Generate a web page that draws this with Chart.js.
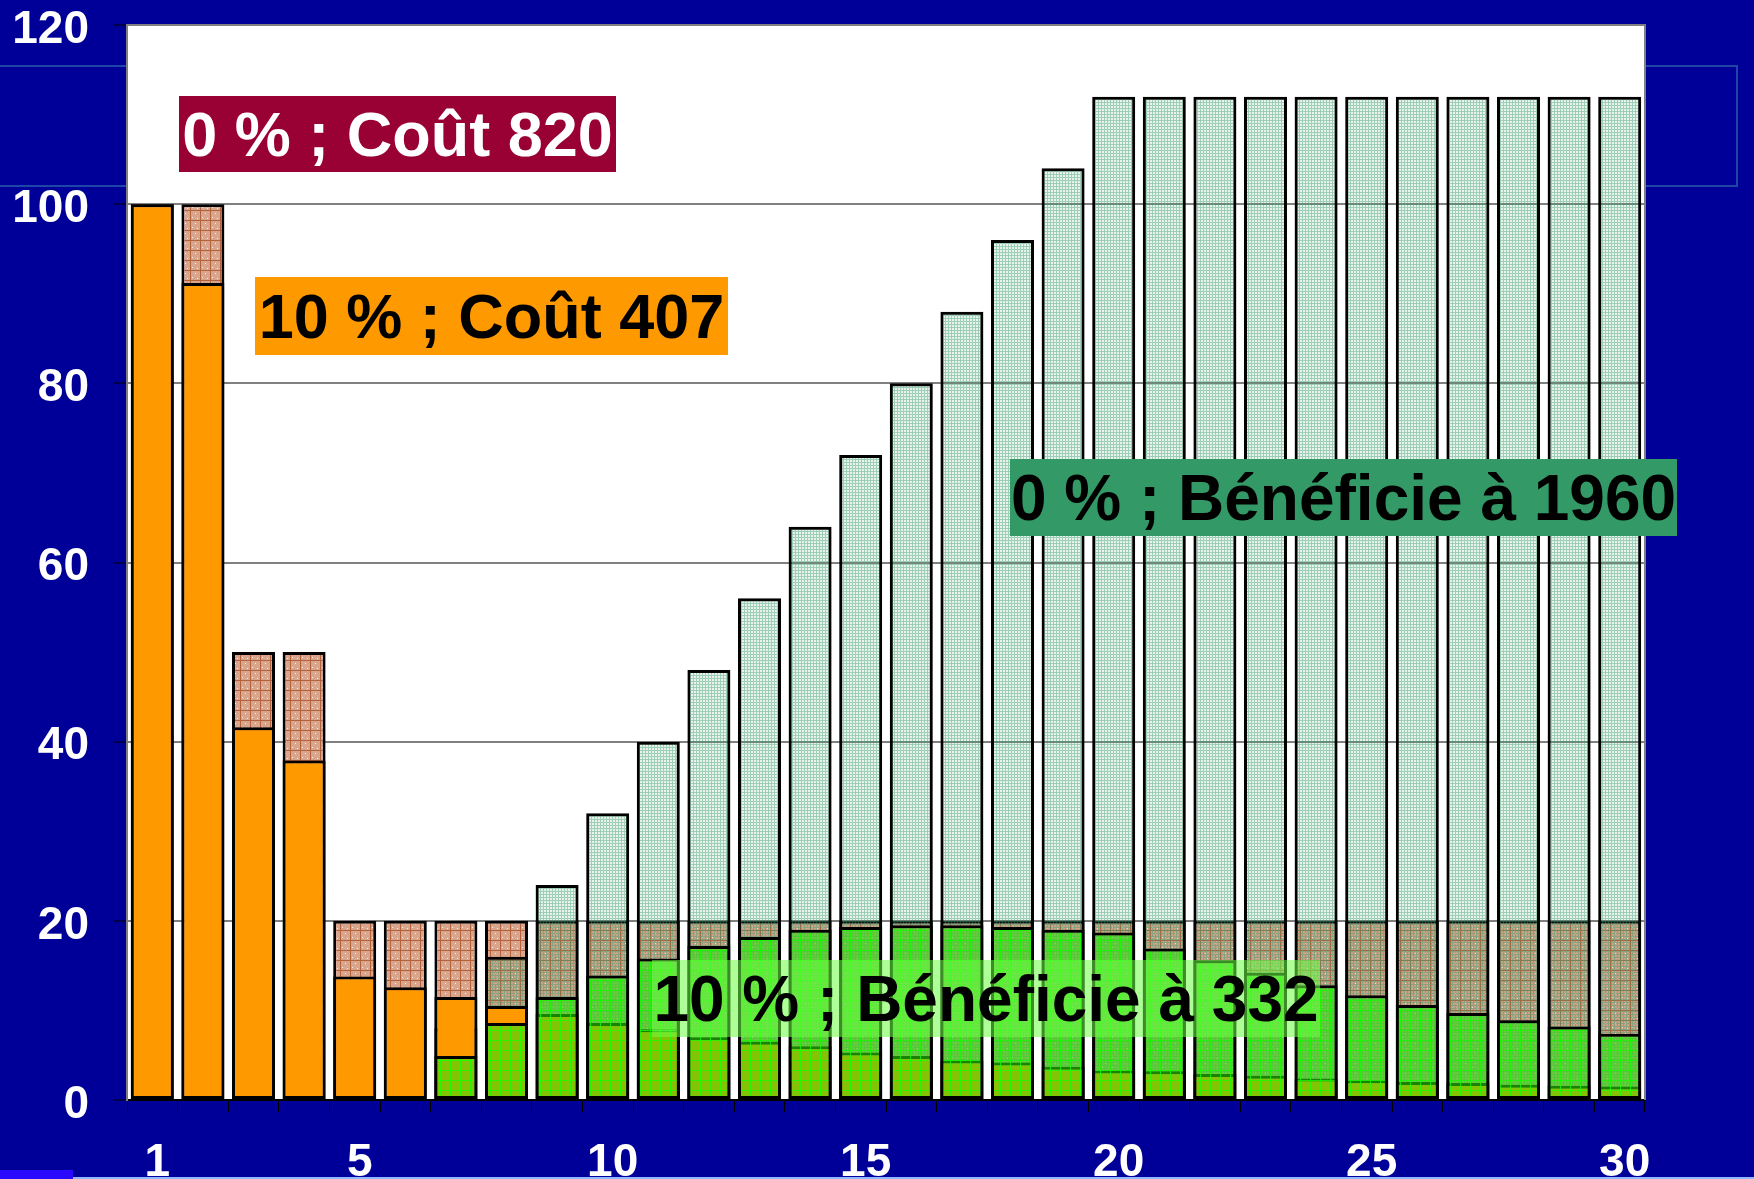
<!DOCTYPE html>
<html><head><meta charset="utf-8">
<script src="https://cdn.jsdelivr.net/npm/chart.js@4.4.1/dist/chart.umd.min.js"></script>
<style>
html,body{margin:0;padding:0;background:#000099;width:1754px;height:1179px;overflow:hidden;}
#wrap{position:relative;width:1754px;height:1179px;}
canvas{position:absolute;left:0;top:0;z-index:1;}
.deco{position:absolute;}
.lbl{position:absolute;z-index:3;font-family:"Liberation Sans",Arial,sans-serif;font-weight:bold;font-size:63px;white-space:nowrap;display:flex;align-items:center;justify-content:center;box-sizing:border-box;}
</style></head>
<body><div id="wrap">
<div class="deco" style="left:-10px;top:65px;width:1744px;height:118px;border:2px solid #1E46A8;z-index:0"></div>
<canvas id="c" width="1754" height="1179"></canvas>
<div class="deco" style="left:0;top:1170px;width:73px;height:9px;background:#2A0AFF;z-index:2"></div>
<div class="deco" style="left:73px;top:1177px;width:1681px;height:2px;background:#8FB6FF;z-index:2"></div>
<div class="lbl" style="left:179px;top:96px;width:437px;height:76px;background:#990033;color:#fff">0 % ; Coût 820</div>
<div class="lbl" style="left:255px;top:277px;width:473px;height:78px;background:#FF9900;color:#000">10 % ; Coût 407</div>
<div class="lbl" style="left:1010px;top:459px;width:667px;height:77px;background:#339966;color:#000;font-size:64px">0 % ; Bénéficie à 1960</div>
<div class="lbl" style="left:652px;top:960px;width:668px;height:77px;background:rgba(110,255,70,0.55);color:#000;font-size:64px">10 % ; Bénéficie à 332</div>
</div>
<script>
// ---- data ----
const categories = ['1','2','3','4','5','6','7','8','9','10','11','12','13','14','15','16','17','18','19','20','21','22','23','24','25','26','27','28','29','30'];
const shownXTicks = ['1','5','10','15','20','25','30'];
const yTickValues = [0,20,40,60,80,100,120];
// 0 % discount: cost
const cost0 = [100,100,50,50,20,20,20,20,20,20,20,20,20,20,20,20,20,20,20,20,20,20,20,20,20,20,20,20,20,20];
// 10 % discount: cost
const cost10 = [100,91.2,41.6,37.9,13.8,12.6,11.5,10.5,9.6,8.6,7.9,7.0,6.5,6.0,5.3,4.9,4.4,4.2,3.7,3.3,3.2,2.9,2.7,2.4,2.2,2.0,1.9,1.7,1.6,1.5];
// 0 % discount: benefit
const benefit0 = [null,null,null,null,null,null,8,16,24,32,40,48,56,64,72,80,88,96,104,112,112,112,112,112,112,112,112,112,112,112];
// 10 % discount: benefit
const benefit10 = [null,null,null,null,null,null,4.9,8.6,11.5,13.9,15.8,17.2,18.2,19.0,19.3,19.5,19.5,19.3,19.0,18.7,16.9,15.6,14.2,12.8,11.7,10.6,9.7,8.9,8.2,7.4];

// ---- patterns ----
function makePattern(w,h,draw){const c=document.createElement('canvas');c.width=w;c.height=h;const g=c.getContext('2d');draw(g,w,h);return g.createPattern(c,'repeat');}
const brownPat = makePattern(10,10,(g,w,h)=>{g.fillStyle='#D9A58D';g.fillRect(0,0,w,h);g.fillStyle='#B4623C';g.fillRect(0,0,w,1);g.fillRect(0,0,1,h);g.fillStyle='rgba(255,255,255,0.85)';g.fillRect(5,3,1,1);g.fillRect(2,7,1,1);g.fillRect(7,8,1,1);});
const mintPat = makePattern(6,6,(g,w,h)=>{g.clearRect(0,0,w,h);g.fillStyle='rgba(60,160,110,0.5)';g.fillRect(0,0,w,1);g.fillRect(0,3,w,1);g.fillRect(0,1,1,2);g.fillRect(0,4,1,2);g.fillRect(3,1,1,2);g.fillRect(3,4,1,2);g.fillStyle='rgba(70,150,110,0.12)';g.fillRect(1,1,2,2);g.fillRect(4,4,2,2);g.fillRect(1,4,2,2);g.fillRect(4,1,2,2);});
const greenPat = makePattern(10,10,(g,w,h)=>{g.fillStyle='rgba(45,225,10,0.58)';g.fillRect(0,0,w,h);g.clearRect(0,0,w,1);g.clearRect(0,0,1,h);g.fillStyle='rgba(20,255,0,0.9)';g.fillRect(0,0,w,1);g.fillRect(0,1,1,h-1);});

const FONT = '"Liberation Sans", Arial, sans-serif';

const plotDeco = {
  id:'plotDeco',
  beforeDraw(chart){const {ctx,chartArea:a}=chart;ctx.save();ctx.fillStyle='#ffffff';ctx.fillRect(a.left,a.top,a.right-a.left,a.bottom-a.top);ctx.restore();},
  afterDatasetsDraw(chart){const {ctx,chartArea:a}=chart;ctx.save();ctx.strokeStyle='#808080';ctx.lineWidth=2;ctx.beginPath();ctx.moveTo(a.left,a.top);ctx.lineTo(a.right,a.top);ctx.lineTo(a.right,a.bottom);ctx.stroke();ctx.restore();}
};

const common = {borderColor:'#000000',borderWidth:3,borderSkipped:false,grouped:false,barPercentage:0.85,categoryPercentage:1.0};

new Chart(document.getElementById('c'),{
  type:'bar',
  data:{
    labels:categories,
    datasets:[
      Object.assign({label:'10 % ; Bénéfice',data:benefit10,backgroundColor:greenPat},common),
      Object.assign({label:'10 % ; Coût',data:cost10,backgroundColor:'#FF9900'},common),
      Object.assign({label:'0 % ; Bénéfice',data:benefit0,backgroundColor:mintPat},common),
      Object.assign({label:'0 % ; Coût',data:cost0,backgroundColor:brownPat},common)
    ]
  },
  options:{
    responsive:false,animation:false,devicePixelRatio:1,
    layout:{padding:{top:25,right:109,left:0,bottom:0}},
    plugins:{legend:{display:false},tooltip:{enabled:false}},
    scales:{
      x:{
        offset:true,
        grid:{display:true,drawOnChartArea:false,drawTicks:true,tickLength:12,tickColor:'#000000',tickWidth:1,offset:true},
        border:{display:true,color:'#000000',width:2},
        ticks:{autoSkip:false,maxRotation:0,minRotation:0,color:'#ffffff',padding:24,labelOffset:5,
          font:{family:FONT,size:46,weight:'bold'},
          callback:function(v,i){const l=categories[i];return shownXTicks.includes(l)?l:'';}},
        afterFit:s=>{s.height=79;s.paddingLeft=0;s.paddingRight=0;}
      },
      y:{
        min:yTickValues[0],max:yTickValues[yTickValues.length-1],
        afterBuildTicks:s=>{s.ticks=yTickValues.map(v=>({value:v}));},
        grid:{color:'#808080',lineWidth:2,tickColor:'#000000',tickWidth:1,tickLength:14},
        border:{display:true,color:'#808080',width:2},
        ticks:{color:'#ffffff',padding:24,labelOffset:5,font:{family:FONT,size:46,weight:'bold'}},
        afterFit:s=>{s.width=127;s.paddingTop=0;s.paddingBottom=0;}
      }
    }
  },
  plugins:[plotDeco]
});
</script>
</body></html>
